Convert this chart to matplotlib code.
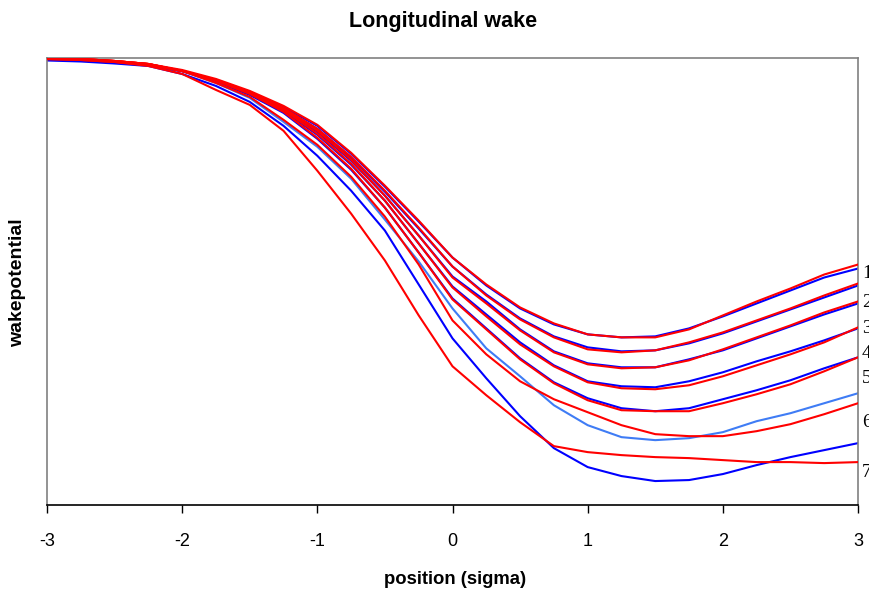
import matplotlib
matplotlib.use('Agg')
import matplotlib.pyplot as plt
import numpy as np

# position along the bunch (sigma)
pos = [-3.0, -2.75, -2.5, -2.25, -2.0, -1.75, -1.5, -1.25, -1.0, -0.75, -0.5, -0.25,
       0.0, 0.25, 0.5, 0.75, 1.0, 1.25, 1.5, 1.75, 2.0, 2.25, 2.5, 2.75, 3.0]

# wake potential (arbitrary units), blue = reference, red = computed
blue1 = [0, -1, -3, -6, -12, -21, -33, -48, -67, -95, -128, -163, -199, -227, -250, -266, -276, -279, -278, -270, -258, -245, -232, -219, -210]
red1 = [0, 0, -2, -5, -11, -20, -32, -47, -66, -94, -127, -162, -199, -226, -249, -265, -276, -279, -279, -271, -257, -243, -230, -216, -206]
blue2 = [0, -1, -3, -6, -12, -22, -34, -50, -70, -99, -133, -170, -208, -236, -260, -278, -289, -293, -292, -285, -275, -263, -251, -239, -227]
red2 = [0, 0, -2, -5, -12, -21, -33, -49, -70, -98, -132, -169, -208, -237, -261, -279, -291, -294, -292, -284, -274, -262, -250, -237, -225]
blue3 = [0, -1, -3, -6, -12, -22, -34, -51, -73, -102, -137, -177, -218, -243, -271, -293, -305, -309, -309, -301, -292, -280, -268, -256, -245]
red3 = [0, 0, -2, -5, -12, -21, -33, -50, -72, -101, -137, -177, -219, -245, -272, -294, -306, -310, -309, -302, -291, -279, -267, -254, -243]
blue4 = [0, -1, -3, -6, -12, -22, -35, -52, -76, -106, -142, -185, -228, -256, -284, -307, -323, -328, -329, -323, -314, -303, -293, -282, -270]
red4 = [0, 0, -2, -5, -12, -21, -34, -51, -75, -105, -142, -185, -229, -258, -286, -308, -324, -330, -331, -327, -318, -307, -296, -284, -269]
blue5 = [0, -1, -3, -6, -12, -23, -36, -54, -80, -111, -149, -194, -240, -270, -300, -324, -340, -350, -353, -350, -341, -332, -322, -310, -299]
red5 = [0, 0, -2, -5, -12, -22, -35, -53, -79, -110, -149, -194, -241, -271, -301, -325, -342, -352, -353, -353, -345, -336, -326, -313, -299]
blue6 = [0, -1, -3, -6, -12, -24, -39, -63, -88, -120, -161, -203, -250, -290, -318, -347, -367, -379, -382, -380, -374, -363, -355, -345, -335]
red6 = [0, -1, -3, -6, -12, -24, -38, -61, -86, -118, -158, -206, -262, -296, -323, -341, -354, -367, -376, -378, -378, -373, -366, -356, -345]
blue7 = [-1.5, -2.5, -4.5, -7, -15, -27, -43, -67, -97, -132, -172, -226, -280, -320, -358, -390, -409, -418, -423, -422, -416, -407, -399, -392, -385]
red7 = [0, -1, -3, -7, -15, -31, -46, -72, -112, -155, -202, -257, -308, -337, -364, -388, -394, -397, -399, -400, -402, -404, -404, -405, -404]

curve_labels = ['1', '2', '3', '4', '5', '6', '7']
label_y = [-215, -244, -270, -295, -320, -364, -414]

blues = [blue1, blue2, blue3, blue4, blue5, blue6, blue7]
reds = [red1, red2, red3, red4, red5, red6, red7]

fig = plt.figure(figsize=(8.7, 5.93), dpi=100)
ax = fig.add_axes([47 / 870, 1 - 505 / 593, (858 - 47) / 870, (505 - 58) / 593])

for i in range(7):
    bcol = '#3F7CF5' if i == 5 else '#0000FF'
    ax.plot(pos, blues[i], color=bcol, lw=1.5, zorder=2)
    ax.plot(pos, reds[i], color='#FF0000', lw=1.5, zorder=3)

# curve numbers sit just right of the frame
for lab, yy in zip(curve_labels, label_y):
    ax.text(3.028, yy, lab, ha='left', va='center', fontsize=14,
            family='Liberation Serif', clip_on=False)

ax.set_xlim(-3, 3)
ax.set_ylim(-447, 1)
ax.set_xticks([-3, -2, -1, 0, 1, 2, 3])
ax.set_xticklabels(['-3', '-2', '-1', '0', '1', '2', '3'], family='Liberation Sans', fontsize=13)
ax.set_yticks([])
ax.tick_params(axis='x', direction='out', length=6, width=1, pad=14)

for side in ['left', 'top', 'right']:
    ax.spines[side].set_color('#808080')
    ax.spines[side].set_linewidth(1.2)
ax.spines['bottom'].set_color('black')
ax.spines['bottom'].set_linewidth(1.2)

fig.text(443 / 870, 1 - 21 / 593, 'Longitudinal wake', ha='center', va='center',
         fontsize=15.5, fontweight='bold', family='Liberation Sans')
fig.text(455 / 870, 1 - 580 / 593, 'position (sigma)', ha='center', va='center',
         fontsize=13.3, fontweight='bold', family='Liberation Sans')
fig.text(18 / 870, 1 - 283 / 593, 'wakepotential', ha='center', va='center', rotation=90,
         fontsize=14, fontweight='bold', family='Liberation Sans')

fig.savefig('out.png', dpi=100)
